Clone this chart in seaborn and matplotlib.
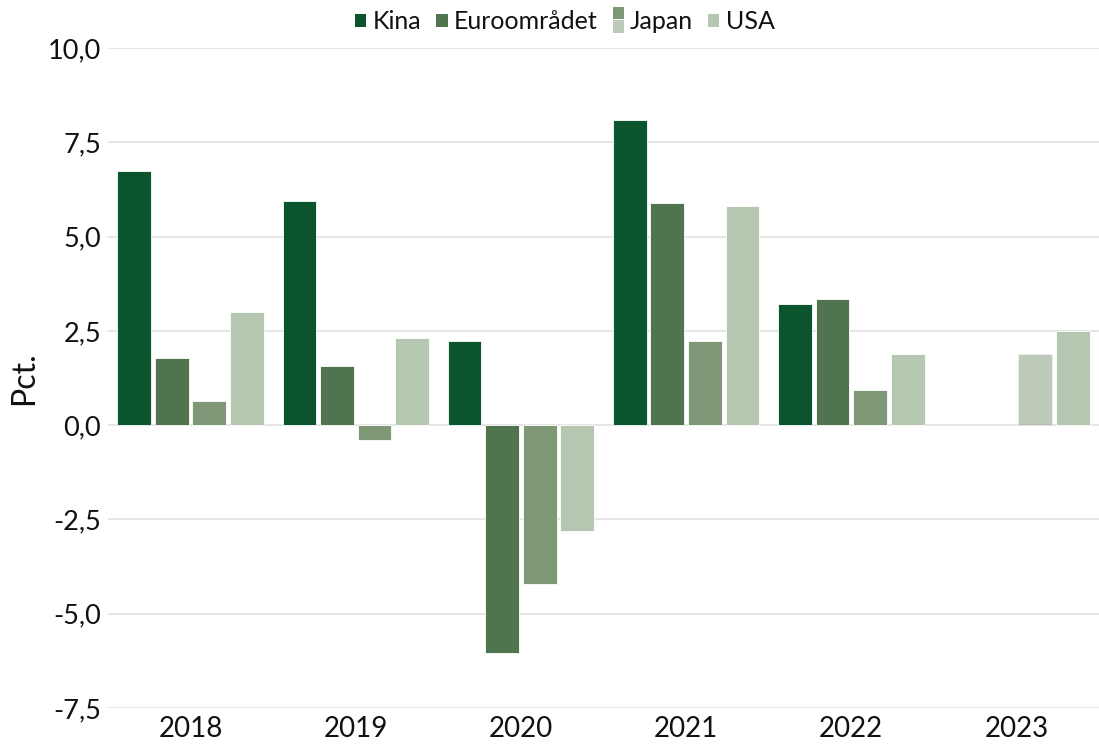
import numpy as np
import pandas as pd
import matplotlib
matplotlib.use("Agg")
import matplotlib.pyplot as plt
import matplotlib.patches as mpatches
import seaborn as sns
from matplotlib.ticker import FuncFormatter, MultipleLocator

years = ["2018", "2019", "2020", "2021", "2022", "2023"]
series = ["Kina", "Euroområdet", "Japan", "USA"]
kina = [6.75, 5.95, 2.23, 8.1, 3.2, np.nan]
euro = [1.78, 1.57, -6.05, 5.9, 3.35, np.nan]
japan = [0.64, -0.4, -4.22, 2.23, 0.92, 1.88]
usa = [3.0, 2.3, -2.8, 5.8, 1.9, 2.5]
colors = ["#0b552e", "#50744d", "#7e9775", "#b5c7b0"]

rows = []
for name, vals in zip(series, [kina, euro, japan, usa]):
    for y, v in zip(years, vals):
        rows.append({"År": y, "Serie": name, "Værdi": v})
df = pd.DataFrame(rows)

sns.set_theme(style="white")
plt.rcParams["font.family"] = ["Lato", "DejaVu Sans"]

fig = plt.figure(figsize=(10.99, 7.47), dpi=100)
ax = fig.add_axes([0.0983, 0.0522, 0.9017, 0.8835])

sns.barplot(data=df, x="År", y="Værdi", hue="Serie", order=years,
            hue_order=series, palette=colors, width=0.91, gap=0.1,
            saturation=1, edgecolor="white", linewidth=0.6, ax=ax,
            legend=False)

# Japan 2023 (forecast) drawn lighter
jap_bars = [p for p in ax.containers[2] if np.isfinite(p.get_height())]
last = max(jap_bars, key=lambda p: p.get_x())
last.set_alpha(0.5)

ax.set_ylim(-7.5, 10)
ax.set_xlim(-0.5, 5.5)
ax.yaxis.set_major_locator(MultipleLocator(2.5))
ax.yaxis.set_major_formatter(FuncFormatter(lambda v, p: f"{v:.1f}".replace(".", ",")))
ax.grid(axis="y", color="#e4e4e4", linewidth=1.3)
ax.set_axisbelow(True)
for s in ax.spines.values():
    s.set_visible(False)
ax.tick_params(axis="x", length=0, labelsize=20, colors="#111111", pad=6)
ax.tick_params(axis="y", length=0, labelsize=19.5, colors="#111111", pad=5)
ax.set_xlabel("")
ax.set_ylabel("Pct.", fontsize=23, color="#111111", labelpad=6)


class SplitHandler:
    def __init__(self, color):
        self.color = color

    def legend_artist(self, legend, orig_handle, fontsize, handlebox):
        x0, y0 = -handlebox.xdescent, -handlebox.ydescent
        w, h = handlebox.width, handlebox.height
        yc = y0 + h / 2
        tr = handlebox.get_transform()
        top = mpatches.Rectangle((x0, yc + 0.12 * h), w, 0.9 * h,
                                 facecolor=self.color, linewidth=0, transform=tr)
        bot = mpatches.Rectangle((x0, yc - 0.95 * h), w, 0.95 * h,
                                 facecolor=self.color, alpha=0.5, linewidth=0,
                                 transform=tr)
        handlebox.add_artist(bot)
        handlebox.add_artist(top)
        return top


handles = [mpatches.Patch(facecolor=c, linewidth=0) for c in colors]
leg = fig.legend(handles, series, loc="center", bbox_to_anchor=(0.514, 0.971),
                 ncol=4, frameon=False, fontsize=18, handlelength=0.45,
                 handleheight=0.45, handletextpad=0.25, columnspacing=0.6,
                 handler_map={handles[2]: SplitHandler(colors[2])})
for t in leg.get_texts():
    t.set_color("#111111")

fig.savefig("out.png", dpi=100)
